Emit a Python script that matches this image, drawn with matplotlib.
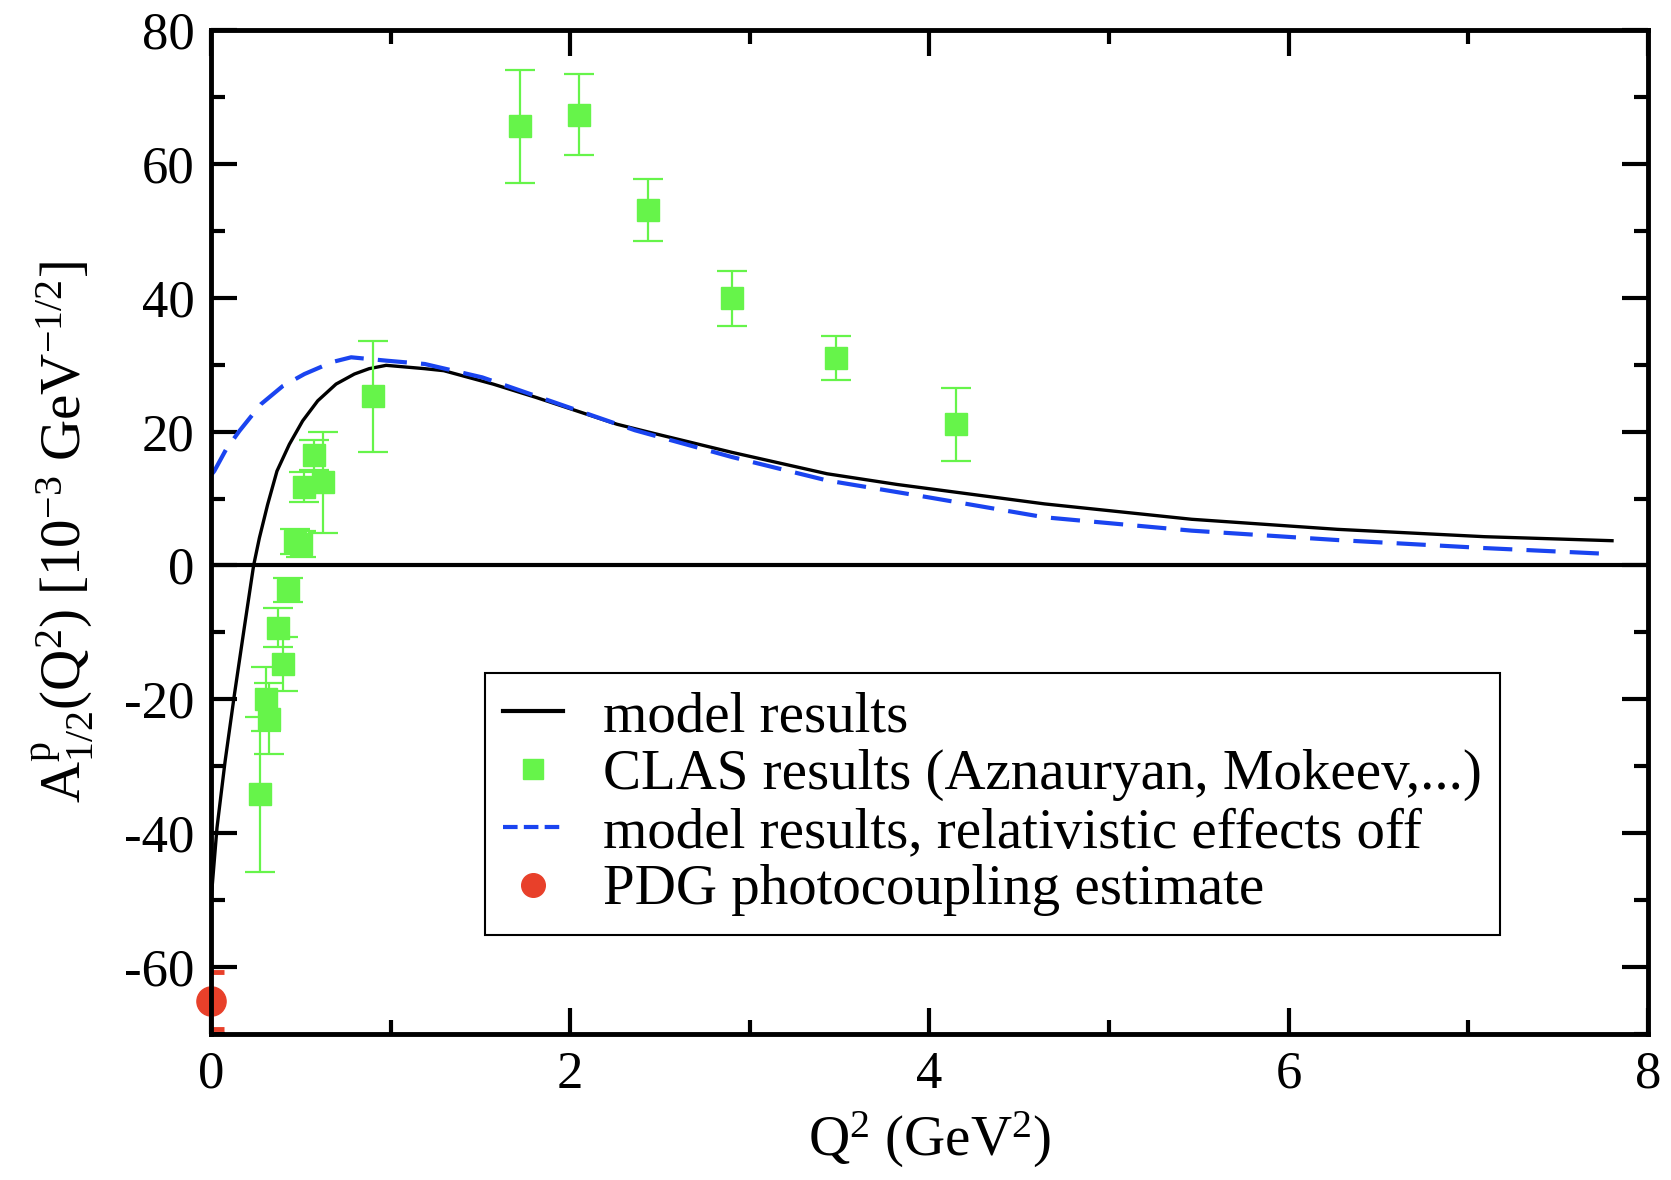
import matplotlib
matplotlib.use("Agg")
import matplotlib.pyplot as plt
from matplotlib.lines import Line2D
from matplotlib.ticker import MultipleLocator

plt.rcParams['font.family'] = ['Liberation Serif', 'DejaVu Serif']
plt.rcParams['mathtext.fontset'] = 'custom'
plt.rcParams['mathtext.rm'] = 'Liberation Serif'
plt.rcParams['mathtext.it'] = 'Liberation Serif:italic'
plt.rcParams['axes.unicode_minus'] = False

# model results (solid black)
model_q2 = [0.0, 0.033, 0.078, 0.13, 0.185, 0.237, 0.269, 0.315, 0.367, 0.436, 0.51,
            0.594, 0.696, 0.798, 0.88, 0.975, 1.19, 1.296, 1.57, 1.81, 2.26, 2.47,
            2.90, 3.43, 3.82, 4.64, 5.46, 6.27, 7.09, 7.80]
model_a = [-50.0, -39.2, -29.3, -19.3, -9.3, 0.0, 4.1, 9.1, 14.1, 18.1, 21.6,
           24.6, 27.1, 28.6, 29.4, 29.9, 29.4, 29.1, 27.1, 25.1, 21.1, 19.7,
           16.9, 13.7, 12.1, 9.2, 6.9, 5.4, 4.3, 3.7]

# model results, relativistic effects off (blue dashed)
nonrel_q2 = [0.0, 0.018, 0.083, 0.158, 0.278, 0.399, 0.52, 0.676, 0.78, 0.975, 1.19,
             1.51, 1.94, 2.36, 2.90, 3.43, 3.99, 4.64, 5.46, 6.27, 7.09, 7.80]
nonrel_a = [13.5, 14.1, 17.3, 20.1, 24.1, 26.8, 28.6, 30.4, 31.1, 30.6, 30.1,
            28.1, 24.1, 20.2, 16.2, 12.7, 10.2, 7.2, 5.2, 3.8, 2.6, 1.7]

# CLAS results
clas_q2 = [0.275, 0.306, 0.325, 0.371, 0.399, 0.427, 0.47, 0.50, 0.52, 0.575, 0.622,
           0.90, 1.72, 2.05, 2.43, 2.90, 3.48, 4.15]
clas_a = [-34.2, -20.0, -22.9, -9.3, -14.7, -3.7, 3.6, 3.2, 11.7, 16.5, 12.4,
          25.3, 65.6, 67.3, 53.1, 39.9, 31.0, 21.1]
clas_err = [11.6, 4.8, 5.3, 2.9, 4.0, 1.8, 1.9, 1.9, 2.2, 2.3, 7.5,
            8.3, 8.45, 6.05, 4.7, 4.1, 3.3, 5.45]

# PDG photocoupling estimate
pdg_q2 = [0.0]
pdg_a = [-65.0]
pdg_err = [4.3]

labels = ["model results", "CLAS results (Aznauryan, Mokeev,...)",
          "model results, relativistic effects off", "PDG photocoupling estimate"]

green = '#66f44a'
red = '#e8402a'
blue = '#1a44f0'

fig = plt.figure(figsize=(16.71, 11.80), dpi=100)
ax = fig.add_axes([0.1263, 0.1237, 0.8599, 0.8509])

ax.axhline(0, color='black', lw=3.0, zorder=1)
ax.plot(model_q2, model_a, color='black', lw=2.4, zorder=2)
ax.plot(nonrel_q2, nonrel_a, color=blue, lw=3.0, dashes=(7.0, 3.4), zorder=3)
ax.errorbar(clas_q2, clas_a, yerr=clas_err, fmt='s', color=green, ms=15.5,
            mec=green, ecolor=green, elinewidth=1.6, capsize=10.5, capthick=1.6,
            zorder=4)
ax.errorbar(pdg_q2, pdg_a, yerr=pdg_err, fmt='none', ecolor=red, elinewidth=3.0,
            capsize=9, capthick=3.5, zorder=2.3)
ax.plot(pdg_q2, pdg_a, ls='none', marker='o', color=red, ms=21, mec=red,
        zorder=2.4, clip_on=False)

ax.set_xlim(0, 8)
ax.set_ylim(-70, 80)
ax.xaxis.set_major_locator(MultipleLocator(2))
ax.xaxis.set_minor_locator(MultipleLocator(1))
ax.yaxis.set_major_locator(MultipleLocator(20))
ax.yaxis.set_minor_locator(MultipleLocator(10))
ax.tick_params(which='both', direction='in', top=True, right=True, width=3.0,
               labelsize=38, pad=12)
ax.tick_params(which='major', length=19)
ax.tick_params(which='minor', length=10)
for s in ax.spines.values():
    s.set_linewidth(3.5)
    s.set_zorder(6)

ax.set_xlabel(r'$\mathrm{Q^2\ (GeV^2)}$', fontsize=41, labelpad=8)
ax.set_ylabel(r'$\mathrm{A^p_{1/2}(Q^2)\ [10^{-3}\ GeV^{-1/2}]}$', fontsize=41,
              labelpad=20)

handles = [
    Line2D([], [], color='black', lw=3.0),
    Line2D([], [], ls='none', marker='s', color=green, ms=15),
    Line2D([], [], color=blue, lw=3.0, dashes=(3.5, 1.5)),
    Line2D([], [], ls='none', marker='o', color=red, ms=17),
]
leg = ax.legend(handles, labels, loc='upper left', bbox_to_anchor=(0.1907, 0.3596),
                fontsize=41, frameon=True, fancybox=False, edgecolor='black',
                framealpha=1, handlelength=1.05, handletextpad=0.7,
                labelspacing=0.1, borderpad=0.32, borderaxespad=0)
leg.get_frame().set_linewidth(1.5)
leg.set_zorder(7)

fig.savefig('out.png', dpi=100)
